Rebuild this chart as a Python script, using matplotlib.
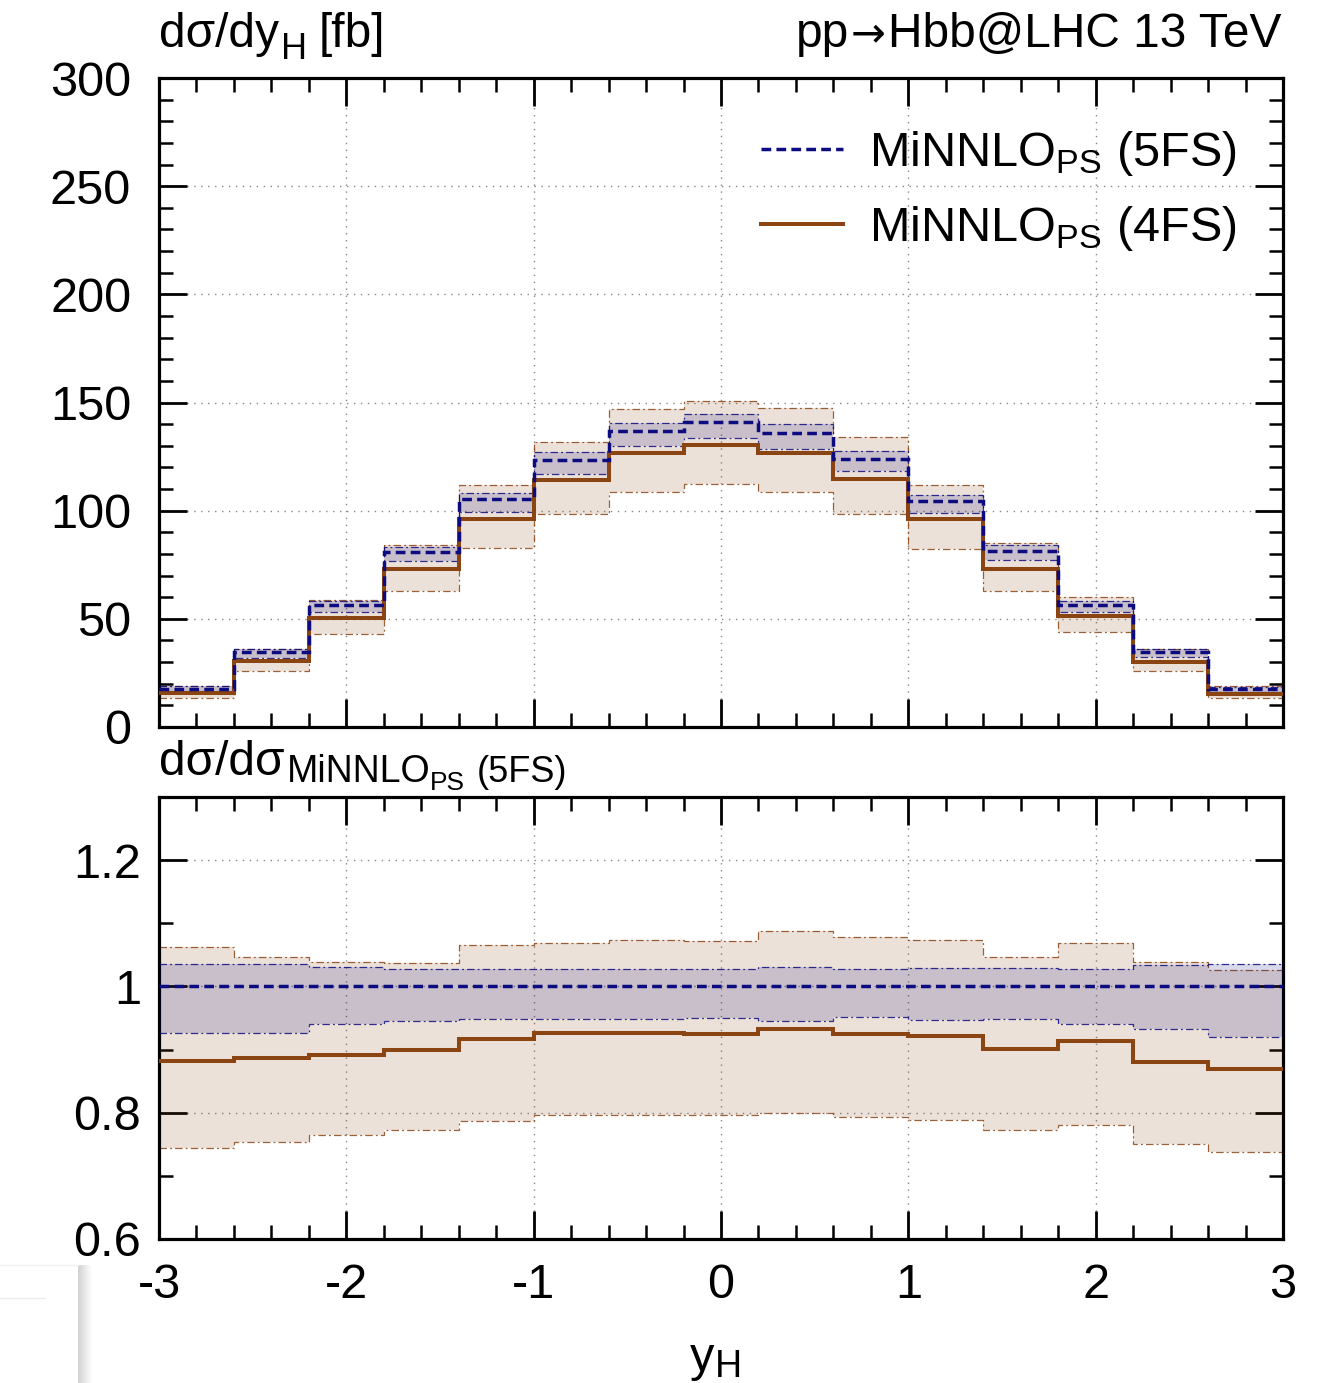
import numpy as np
import matplotlib
matplotlib.use("Agg")
import matplotlib.pyplot as plt
from matplotlib.ticker import MultipleLocator, FixedLocator, FuncFormatter

plt.rcParams['font.family'] = ['Liberation Sans', 'DejaVu Sans']
plt.rcParams['mathtext.fontset'] = 'custom'
plt.rcParams['mathtext.rm'] = 'Liberation Sans'
plt.rcParams['mathtext.it'] = 'Liberation Sans:italic'
plt.rcParams['mathtext.bf'] = 'Liberation Sans:bold'

# ---- data: Higgs rapidity distribution, 15 bins of width 0.4 ----
bin_edges = [-3.0, -2.6, -2.2, -1.8, -1.4, -1.0, -0.6, -0.2,
             0.2, 0.6, 1.0, 1.4, 1.8, 2.2, 2.6, 3.0]

# MiNNLO_PS 5FS: central value and scale-variation band [fb]
xs_5fs = [17.7, 34.5, 56.4, 81.0, 105.2, 123.4, 136.8, 140.8,
          135.9, 124.0, 104.4, 81.3, 56.2, 34.5, 17.4]
xs_5fs_hi = [19.0, 35.9, 58.2, 83.3, 108.0, 127.1, 140.3, 144.8,
             140.2, 127.4, 107.4, 84.1, 58.1, 35.9, 18.6]
xs_5fs_lo = [16.8, 31.7, 53.0, 76.7, 99.5, 116.8, 129.9, 133.7,
             128.3, 118.2, 98.7, 77.0, 53.0, 32.2, 16.3]

# MiNNLO_PS 4FS: central value and scale-variation band [fb]
xs_4fs = [15.9, 30.5, 50.2, 72.9, 96.3, 114.1, 126.8, 130.3,
          126.6, 114.8, 96.0, 73.2, 51.4, 30.2, 15.2]
xs_4fs_hi = [19.0, 35.9, 58.7, 84.3, 111.8, 131.8, 147.0, 150.8,
             147.6, 133.9, 112.0, 85.2, 60.2, 35.9, 18.8]
xs_4fs_lo = [13.2, 25.9, 43.0, 62.8, 82.6, 98.3, 108.7, 112.2,
             108.6, 98.3, 82.3, 62.8, 43.7, 25.9, 13.2]

# ratios to the 5FS central prediction
r_5fs = [1.0, 1.0, 1.0, 1.0, 1.0, 1.0, 1.0, 1.0,
         1.0, 1.0, 1.0, 1.0, 1.0, 1.0, 1.0]
r_5fs_hi = [1.036, 1.035, 1.030, 1.028, 1.028, 1.028, 1.027, 1.027,
            1.031, 1.027, 1.029, 1.029, 1.027, 1.034, 1.035]
r_5fs_lo = [0.927, 0.927, 0.941, 0.946, 0.948, 0.948, 0.949, 0.950,
            0.945, 0.951, 0.947, 0.948, 0.941, 0.932, 0.920]
r_4fs = [0.882, 0.886, 0.891, 0.899, 0.916, 0.926, 0.927, 0.925,
         0.932, 0.925, 0.921, 0.901, 0.914, 0.881, 0.869]
r_4fs_hi = [1.063, 1.046, 1.038, 1.037, 1.066, 1.069, 1.074, 1.072,
            1.087, 1.079, 1.073, 1.047, 1.069, 1.038, 1.026]
r_4fs_lo = [0.744, 0.753, 0.764, 0.773, 0.787, 0.797, 0.796, 0.797,
            0.800, 0.793, 0.789, 0.772, 0.780, 0.750, 0.737]

x_ticks = [-3, -2, -1, 0, 1, 2, 3]
x_tick_labels = ['-3', '-2', '-1', '0', '1', '2', '3']
main_yticks = [0, 50, 100, 150, 200, 250, 300]
ratio_yticks = [0.6, 0.8, 1.0, 1.2]

label_5fs = r"MiNNLO$_{\mathrm{PS}}$ (5FS)"
label_4fs = r"MiNNLO$_{\mathrm{PS}}$ (4FS)"

# ---- styles ----
NAVY = '#0c0c80'
BROWN = '#8b4513'
FS = 35

W, H = 1327, 1383
fig = plt.figure(figsize=(W / 100, H / 100), dpi=100)
renderer = fig.canvas.get_renderer()


def px_axes(left, top, right, bottom):
    return fig.add_axes([left / W, 1 - bottom / H, (right - left) / W, (bottom - top) / H])


def rich_text(x_px, base_px, pieces, ha='left'):
    """Place text pieces (text, size, drop_px, gap_after_px[, family]) on a common baseline."""
    widths = []
    fams = []
    for p in pieces:
        fam = p[4] if len(p) > 4 else None
        fams.append(fam)
        t = fig.text(0, 0, p[0], fontsize=p[1], family=fam)
        widths.append(t.get_window_extent(renderer).width)
        t.remove()
    total = sum(widths) + sum(p[3] for p in pieces[:-1])
    x = x_px if ha == 'left' else x_px - total
    for p, w, fam in zip(pieces, widths, fams):
        txt, size, drop, gap = p[:4]
        fig.text(x / W, 1 - (base_px + drop) / H, txt, fontsize=size,
                 family=fam, ha='left', va='baseline')
        x += w + gap


ax_top = px_axes(159, 78, 1283, 727)
ax_bot = px_axes(159, 797, 1283, 1239)

BAND_LS = (0, (6, 2.5, 1.5, 2.5))


def draw_panel(ax, c5, h5, l5, c4, h4, l4):
    e = bin_edges
    # 4FS band
    ax.stairs(h4, e, baseline=l4, fill=True, color=BROWN, alpha=0.16,
              linewidth=0, zorder=1)
    for b in (h4, l4):
        ax.stairs(b, e, baseline=None, color=BROWN, lw=0.9, alpha=0.85,
                  linestyle=BAND_LS, zorder=2)
    # 5FS band
    ax.stairs(h5, e, baseline=l5, fill=True, color='navy', alpha=0.15,
              linewidth=0, zorder=3)
    for b in (h5, l5):
        ax.stairs(b, e, baseline=None, color=NAVY, lw=0.9, alpha=0.85,
                  linestyle=BAND_LS, zorder=4)
    # central predictions
    ax.stairs(c4, e, baseline=None, color=BROWN, lw=2.9, zorder=5,
              label=label_4fs)
    ax.stairs(c5, e, baseline=None, color=NAVY, lw=2.5, zorder=6,
              linestyle=(0, (2.8, 1.5)), label=label_5fs)


def style_axes(ax, ypad):
    ax.set_xlim(-3, 3)
    ax.xaxis.set_major_locator(FixedLocator(x_ticks))
    ax.xaxis.set_minor_locator(MultipleLocator(0.2))
    ax.tick_params(which='both', direction='in', top=True, right=True,
                   labelsize=FS)
    ax.tick_params(axis='x', pad=17)
    ax.tick_params(axis='y', pad=ypad)
    ax.tick_params(which='major', length=20, width=2.0)
    ax.tick_params(which='minor', length=10, width=1.8)
    for s in ax.spines.values():
        s.set_linewidth(2.3)
    ax.grid(True, which='major', linestyle=(0, (1, 4)), color='#888888',
            linewidth=1.0)
    ax.set_axisbelow(True)


draw_panel(ax_top, xs_5fs, xs_5fs_hi, xs_5fs_lo, xs_4fs, xs_4fs_hi, xs_4fs_lo)
draw_panel(ax_bot, r_5fs, r_5fs_hi, r_5fs_lo, r_4fs, r_4fs_hi, r_4fs_lo)

style_axes(ax_top, ypad=20)
ax_top.set_ylim(0, 300)
ax_top.yaxis.set_major_locator(FixedLocator(main_yticks))
ax_top.yaxis.set_minor_locator(MultipleLocator(10))
ax_top.tick_params(axis='x', labelbottom=False)

style_axes(ax_bot, ypad=13)
ax_bot.set_ylim(0.6, 1.3)
ax_bot.yaxis.set_major_locator(FixedLocator(ratio_yticks))
ax_bot.yaxis.set_minor_locator(MultipleLocator(0.1))
ax_bot.yaxis.set_major_formatter(FuncFormatter(lambda v, p: '%g' % round(v, 3)))
ax_bot.set_xticks(x_ticks)
ax_bot.set_xticklabels(x_tick_labels)

# legend
h, l = ax_top.get_legend_handles_labels()
order = [1, 0]
ax_top.legend([h[i] for i in order], [l[i] for i in order], loc='upper right',
              bbox_to_anchor=(0.959, 0.922), frameon=False, fontsize=35,
              handlelength=1.68, handletextpad=0.55, labelspacing=0.55,
              borderpad=0, borderaxespad=0)

# panel annotations
rich_text(159, 47, [("dσ/dy", 34.5, 0, 2), ("H", 26, 12, 12), ("[fb]", 34.5, 0, 0)])
rich_text(1281, 47, [("pp", 34.5, 0, 2), ("\u2192", 30, -1, 2, 'DejaVu Sans'),
                     ("Hbb@LHC 13 TeV", 34.5, 0, 0)], ha='right')
rich_text(159, 775, [("dσ/dσ", 34.5, 0, 2), ("MiNNLO", 27, 7, 0),
                     ("PS", 19, 15, 12), ("(5FS)", 26, 7, 0)])
rich_text(690, 1371, [("y", 35, 0, 1), ("H", 27, 6, 0)])

# faint panel shadow at the lower left corner
shadow = fig.add_axes([78 / W, 0, 14 / W, (H - 1265) / H])
grad = np.linspace(0.82, 1.0, 64).reshape(1, -1)
shadow.imshow(grad, cmap='gray', vmin=0, vmax=1, aspect='auto',
              interpolation='bilinear')
shadow.set_axis_off()
fig.add_artist(plt.Line2D([0, 78 / W], [1 - 1265 / H] * 2, color='#f2f2f2', lw=1))
fig.add_artist(plt.Line2D([0, 45 / W], [1 - 1298 / H] * 2, color='#ececec', lw=1))

fig.savefig("out.png", dpi=100)
